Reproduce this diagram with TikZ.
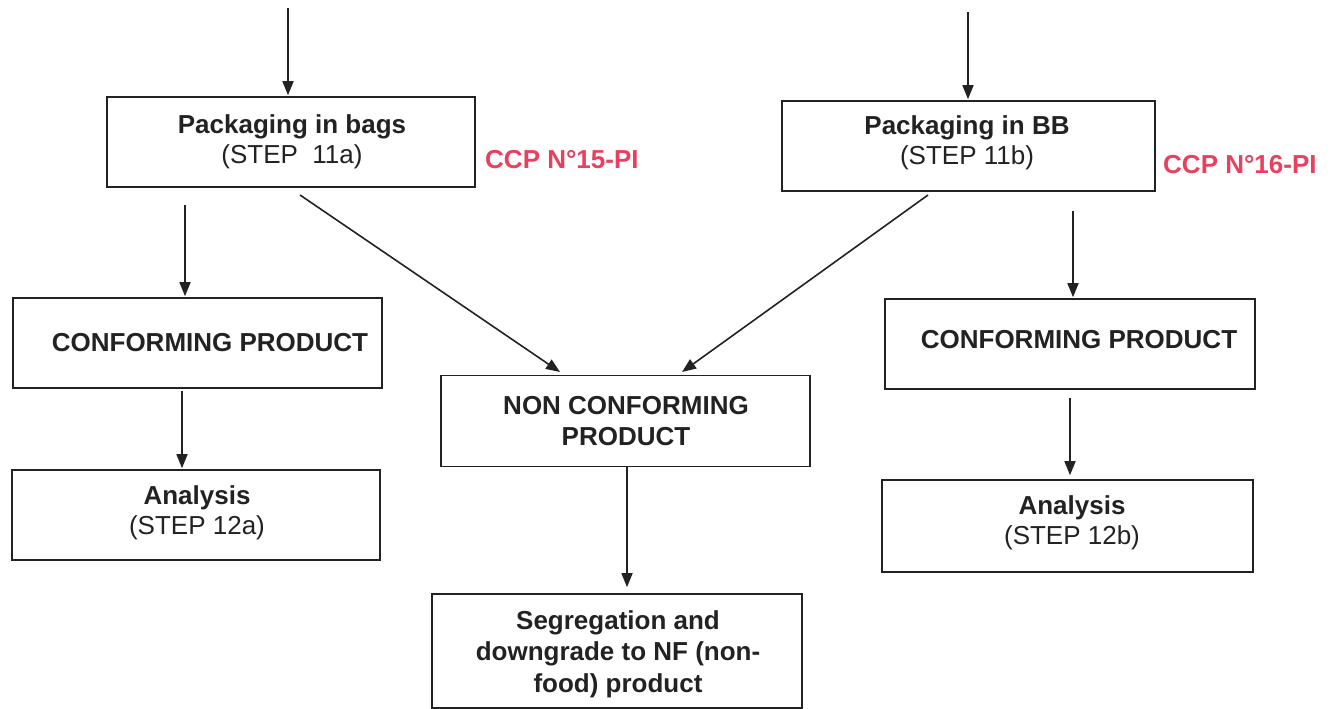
\documentclass[tikz,border=0pt]{standalone}
\usepackage{fontspec}
\setmainfont{Liberation Sans}
\usetikzlibrary{arrows.meta}
\definecolor{ink}{HTML}{222222}
\definecolor{ccpred}{HTML}{E8405E}
\begin{document}
\begin{tikzpicture}[x=1pt,y=-1pt,
  box/.style={draw=ink,line width=1.6pt,inner sep=0pt,anchor=center},
  txt/.style={text=ink,align=center,inner sep=0pt,font=\fontsize{26}{30.5}\selectfont},
  ccp/.style={text=ccpred,inner sep=0pt,anchor=west,font=\fontsize{26}{30}\selectfont\bfseries},
  arr/.style={draw=ink,line width=1.6pt,-{Triangle[length=14pt,width=11pt]}}]
\path[use as bounding box] (0,0) rectangle (1338,709);

% boxes
\node[box,minimum width=368pt,minimum height=90pt] (A) at (291,142) {};
\node[txt] at (292,142) {\bfseries Packaging in bags\\(STEP\ \ 11a)};
\node[ccp] (ccpA) at (485,160) {CCP N°15-PI};

\node[box,minimum width=373pt,minimum height=90pt] (B) at (968.5,146) {};
\node[txt] at (967,143) {\bfseries Packaging in BB\\(STEP 11b)};
\node[ccp] (ccpB) at (1163,165) {CCP N°16-PI};

\node[box,minimum width=369pt,minimum height=90pt] (LC) at (197.5,343) {};
\node[txt] at (210,343) {\bfseries CONFORMING PRODUCT};

\node[box,minimum width=370pt,minimum height=90pt] (RC) at (1070,344) {};
\node[txt] at (1079,340) {\bfseries CONFORMING PRODUCT};

\node[box,minimum width=368pt,minimum height=90pt] (LA) at (196,515) {};
\node[txt] at (197,513) {\bfseries Analysis\\(STEP 12a)};

\node[box,minimum width=371pt,minimum height=92pt] (RA) at (1067.5,526) {};
\node[txt] at (1072,523) {\bfseries Analysis\\(STEP 12b)};

\node[box,minimum width=369pt,minimum height=91pt] (NC) at (625.5,421) {};
\node[txt] at (626,421) {\bfseries NON CONFORMING\\\bfseries PRODUCT};

\node[box,minimum width=370pt,minimum height=114pt] (SG) at (617,651) {};
\node[txt,font=\fontsize{26}{31.5}\selectfont\bfseries] at (618,654) {Segregation and\\downgrade to NF (non-\\food) product};

% free ends
\coordinate (topA) at (288,8);
\coordinate (topB) at (968,12);
\coordinate (sA1) at (185,205);
\coordinate (sA2) at (300,195);
\coordinate (sB1) at (1073,211);
\coordinate (sB2) at (928,195);
\coordinate (eNC1) at (560,372);
\coordinate (eNC2) at (682,372);

% connectors
\draw[arr] (topA) -- ([yshift=1pt]topA |- A.north);
\draw[arr] (topB) -- ([yshift=1pt]topB |- B.north);
\draw[arr] (sA1) -- ([yshift=1pt]sA1 |- LC.north);
\draw[arr] (sB1) -- ([yshift=1pt]sB1 |- RC.north);
\draw[arr] (sA2) -- (eNC1);
\draw[arr] (sB2) -- (eNC2);
\draw[arr] ([yshift=-2pt]LC.south -| 182,0) -- ([yshift=1pt]LA.north -| 182,0);
\draw[arr] ([yshift=-8pt]RC.south -| 1070,0) -- ([yshift=4pt]RA.north -| 1070,0);
\draw[arr] (NC.south -| 627,0) -- ([yshift=6pt]SG.north -| 627,0);
\end{tikzpicture}
\end{document}
